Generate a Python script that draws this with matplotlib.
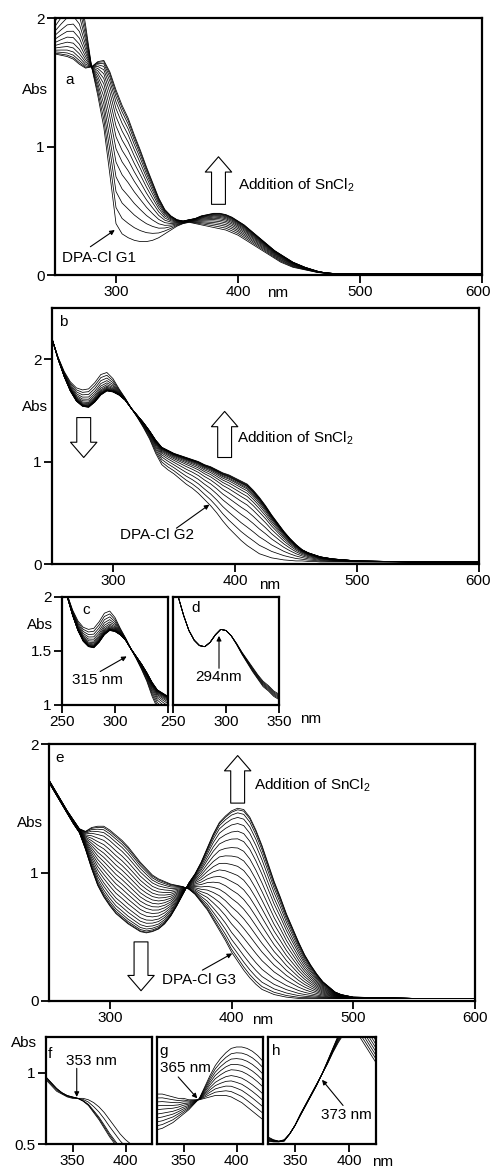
import numpy as np
import matplotlib.pyplot as plt
import matplotlib.transforms as mtransforms

plt.rcParams['font.family'] = ['Liberation Sans', 'DejaVu Sans']
plt.rcParams['mathtext.fontset'] = 'custom'
plt.rcParams['mathtext.rm'] = 'Liberation Sans'

# wavelength grid (nm) for the full-range spectra
wl = list(range(250, 505, 5)) + [525, 550, 575, 600]
# grid for the zoomed insets
wl_cd = list(range(250, 355, 5))
wl_fgh = list(range(325, 430, 5))

# --- a: DPA-Cl G1, first and last spectra of the titration
a_start = [2.05, 2.16, 2.26, 2.30, 2.22, 1.95, 1.62, 1.40, 1.15, 0.78,
           0.40, 0.32, 0.29, 0.27, 0.26, 0.26, 0.27, 0.29, 0.32, 0.35,
           0.38, 0.40, 0.41, 0.40, 0.39, 0.38, 0.37, 0.36, 0.35, 0.33,
           0.31, 0.28, 0.25, 0.22, 0.19, 0.16, 0.13, 0.10, 0.08, 0.06,
           0.05, 0.04, 0.03, 0.02, 0.015, 0.01, 0.01, 0.01, 0.01, 0.01,
           0.01, 0.01, 0.01, 0.01, 0.01]
a_end = [1.72, 1.71, 1.70, 1.68, 1.64, 1.61, 1.62, 1.66, 1.67, 1.58,
         1.44, 1.32, 1.22, 1.09, 0.97, 0.84, 0.72, 0.60, 0.51, 0.46,
         0.43, 0.42, 0.43, 0.44, 0.46, 0.47, 0.48, 0.48, 0.47, 0.45,
         0.42, 0.39, 0.35, 0.31, 0.27, 0.23, 0.19, 0.16, 0.13, 0.10,
         0.08, 0.06, 0.045, 0.03, 0.02, 0.015, 0.01, 0.01, 0.01, 0.01,
         0.01, 0.01, 0.01, 0.01, 0.01]
a_steps = [0, 0.12, 0.24, 0.35, 0.46, 0.56, 0.65, 0.73, 0.80, 0.86,
           0.91, 0.95, 0.98, 1.0]

# --- b: DPA-Cl G2
b_start = [2.20, 2.02, 1.88, 1.78, 1.72, 1.70, 1.71, 1.77, 1.85, 1.87,
           1.81, 1.71, 1.62, 1.52, 1.43, 1.33, 1.22, 1.08, 0.97, 0.92,
           0.88, 0.83, 0.78, 0.74, 0.69, 0.63, 0.57, 0.50, 0.42, 0.35,
           0.29, 0.23, 0.18, 0.14, 0.10, 0.08, 0.06, 0.05, 0.04, 0.035,
           0.03, 0.03, 0.025, 0.025, 0.02, 0.02, 0.02, 0.02, 0.02, 0.02,
           0.02, 0.02, 0.02, 0.02, 0.02]
b_end = [2.20, 2.00, 1.83, 1.69, 1.59, 1.54, 1.53, 1.58, 1.65, 1.69,
         1.68, 1.65, 1.60, 1.52, 1.45, 1.38, 1.30, 1.21, 1.14, 1.11,
         1.08, 1.06, 1.04, 1.02, 1.00, 0.97, 0.95, 0.92, 0.89, 0.87,
         0.84, 0.81, 0.78, 0.72, 0.65, 0.57, 0.48, 0.40, 0.32, 0.25,
         0.19, 0.14, 0.11, 0.09, 0.07, 0.06, 0.05, 0.045, 0.04, 0.035,
         0.03, 0.025, 0.02, 0.02, 0.02]
b_steps = [0, 0.15, 0.30, 0.44, 0.56, 0.66, 0.74, 0.80, 0.85, 0.89,
           0.92, 0.94, 0.96, 0.97, 0.98, 0.99, 1.0]

# --- d: later stage of G2, 250-350 nm
d_start = [2.20, 2.00, 1.83, 1.69, 1.60, 1.55, 1.54, 1.58, 1.65, 1.70,
           1.69, 1.64, 1.57, 1.49, 1.42, 1.35, 1.28, 1.22, 1.18, 1.13,
           1.10]
d_end = [2.20, 2.00, 1.83, 1.69, 1.60, 1.55, 1.54, 1.58, 1.65, 1.70,
         1.69, 1.64, 1.56, 1.47, 1.39, 1.31, 1.24, 1.17, 1.13, 1.08,
         1.05]
d_steps = [0, 0.2, 0.4, 0.6, 0.8, 1.0]

# --- e: DPA-Cl G3
e_start = [1.72, 1.64, 1.56, 1.48, 1.41, 1.34, 1.32, 1.35, 1.36, 1.36,
           1.33, 1.29, 1.25, 1.20, 1.14, 1.08, 1.03, 0.98, 0.95, 0.93,
           0.91, 0.90, 0.89, 0.87, 0.83, 0.77, 0.71, 0.63, 0.55, 0.47,
           0.38, 0.31, 0.24, 0.18, 0.13, 0.09, 0.07, 0.05, 0.04, 0.03,
           0.025, 0.02, 0.02, 0.02, 0.02, 0.02, 0.02, 0.02, 0.02, 0.02,
           0.02, 0.02, 0.02, 0.02, 0.02]
e_end = [1.70, 1.62, 1.54, 1.46, 1.38, 1.31, 1.18, 1.03, 0.90, 0.81,
         0.74, 0.68, 0.64, 0.60, 0.57, 0.54, 0.53, 0.54, 0.56, 0.60,
         0.66, 0.74, 0.83, 0.92, 0.99, 1.08, 1.19, 1.30, 1.39, 1.44,
         1.48, 1.50, 1.49, 1.43, 1.33, 1.21, 1.07, 0.93, 0.81, 0.68,
         0.57, 0.46, 0.36, 0.28, 0.21, 0.15, 0.11, 0.07, 0.05, 0.04,
         0.03, 0.025, 0.02, 0.02, 0.02]
e_steps = [0, 0.02, 0.05, 0.09, 0.14, 0.20, 0.26, 0.32, 0.38, 0.44,
           0.50, 0.56, 0.62, 0.68, 0.74, 0.80, 0.85, 0.90, 0.94, 0.97,
           0.99, 1.0]

# --- f, g, h: three stages of the G3 titration, 325-425 nm
f_start = [0.97, 0.93, 0.89, 0.86, 0.84, 0.83, 0.82, 0.80, 0.77, 0.72,
           0.67, 0.61, 0.55, 0.50, 0.45, 0.41, 0.37, 0.33, 0.30, 0.27,
           0.24]
f_end = [0.95, 0.91, 0.87, 0.85, 0.83, 0.82, 0.82, 0.82, 0.81, 0.79,
         0.76, 0.72, 0.67, 0.62, 0.57, 0.53, 0.50, 0.46, 0.42, 0.38,
         0.35]
f_steps = [0, 0.1, 0.2, 0.6, 1.0]

g_start = [0.85, 0.85, 0.84, 0.83, 0.82, 0.82, 0.81, 0.81, 0.81, 0.82,
           0.83, 0.84, 0.84, 0.84, 0.83, 0.81, 0.79, 0.76, 0.73, 0.70,
           0.67]
g_end = [0.60, 0.61, 0.63, 0.65, 0.68, 0.71, 0.74, 0.78, 0.82, 0.90,
         0.98, 1.05, 1.10, 1.14, 1.17, 1.18, 1.18, 1.17, 1.15, 1.12,
         1.08]
g_steps = [0, 0.11, 0.22, 0.33, 0.44, 0.56, 0.67, 0.78, 0.89, 1.0]

h_start = [0.55, 0.53, 0.52, 0.53, 0.57, 0.63, 0.71, 0.78, 0.85, 0.92,
           0.99, 1.06, 1.14, 1.21, 1.27, 1.30, 1.29, 1.25, 1.19, 1.13,
           1.07]
h_end = [0.52, 0.515, 0.515, 0.52, 0.57, 0.63, 0.70, 0.77, 0.84, 0.91,
         0.99, 1.08, 1.17, 1.26, 1.33, 1.38, 1.41, 1.40, 1.36, 1.30,
         1.24]
h_steps = [0, 0.15, 0.3, 0.45, 0.6, 0.75, 0.9, 1.0]

W, H = 492, 1170
FS = 11
fig = plt.figure(figsize=(W / 100, H / 100), dpi=100)


def panel(l, t, r, b):
    return fig.add_axes([l / W, 1 - b / H, (r - l) / W, (b - t) / H])


def spectra(ax, x, start, end, steps):
    s = np.array(start)
    e = np.array(end)
    for k in steps:
        ax.plot(x, s + k * (e - s), color='black', lw=0.55)


def frame(ax, xlim, ylim, xticks, xlabels, yticks, ylabels):
    ax.set_xlim(*xlim)
    ax.set_ylim(*ylim)
    ax.set_xticks(xticks)
    ax.set_xticklabels(xlabels)
    ax.set_yticks(yticks)
    ax.set_yticklabels(ylabels)
    ax.tick_params(direction='out', length=5.5, width=1.3, labelsize=FS, pad=2)
    for sp in ax.spines.values():
        sp.set_linewidth(1.6)


def pull_last_label(ax, dx_px):
    # nudge the right-most x tick label so it stays inside the canvas
    lbl = ax.xaxis.get_major_ticks()[-1].label1
    shift = mtransforms.ScaledTranslation(dx_px / 100, 0, fig.dpi_scale_trans)
    lbl.set_transform(lbl.get_transform() + shift)


def ftext(px, py, s, **kw):
    fig.text(px / W, 1 - py / H, s, ha='center', va='center', fontsize=FS, **kw)


def block_arrow(ax, x, y0, y1):
    ax.annotate('', xy=(x, y1), xytext=(x, y0),
                arrowprops=dict(arrowstyle='simple,head_width=1.9,head_length=1.1,tail_width=1.0',
                                mutation_scale=10, fc='white', ec='black', lw=0.8,
                                shrinkA=0, shrinkB=0))


def pointer(ax, txy, hxy, lw=0.8):
    ax.annotate('', xy=hxy, xytext=txy,
                arrowprops=dict(arrowstyle='-|>', mutation_scale=7, lw=lw,
                                color='black', shrinkA=0, shrinkB=0))


big_ticks = [300, 400, 500, 600]
big_labels = ['300', '400', '500', '600']

# a
ax = panel(55, 18, 482, 275)
spectra(ax, wl, a_start, a_end, a_steps)
frame(ax, (250, 600), (0, 2), big_ticks, big_labels, [0, 1, 2], ['0', '1', '2'])
pull_last_label(ax, -4)
ax.text(262, 1.52, 'a', fontsize=FS, ha='center', va='center')
block_arrow(ax, 384, 0.55, 0.92)
ax.text(400, 0.70, 'Addition of SnCl$_2$', fontsize=FS, va='center')
ax.text(256, 0.13, 'DPA-Cl G1', fontsize=FS, va='center')
pointer(ax, (279, 0.22), (299, 0.35))
ftext(35, 90, 'Abs')
ftext(278, 293, 'nm')

# b
ax = panel(52, 308, 479, 564)
spectra(ax, wl, b_start, b_end, b_steps)
frame(ax, (250, 600), (0, 2.5), big_ticks, big_labels, [0, 1, 2], ['0', '1', '2'])
pull_last_label(ax, -1)
ax.text(259, 2.36, 'b', fontsize=FS, ha='center', va='center')
block_arrow(ax, 276, 1.43, 1.04)
block_arrow(ax, 391.5, 1.04, 1.49)
ax.text(402, 1.23, 'Addition of SnCl$_2$', fontsize=FS, va='center')
ax.text(336, 0.28, 'DPA-Cl G2', fontsize=FS, ha='center', va='center')
pointer(ax, (352, 0.35), (379, 0.58))
ftext(35, 407, 'Abs')
ftext(270, 585, 'nm')

# c: zoom of b
ax = panel(62, 597, 168, 705)
spectra(ax, wl, b_start, b_end, b_steps)
frame(ax, (250, 350), (1, 2), [250, 300, 350], ['250', '300', ''],
      [1, 1.5, 2], ['1', '1.5', '2'])
ax.text(272.6, 1.88, 'c', fontsize=FS, ha='center', va='center')
ax.text(283, 1.23, '315 nm', fontsize=FS, ha='center', va='center')
pointer(ax, (286, 1.31), (311, 1.45))
ftext(40, 625, 'Abs')

# d
ax = panel(173, 597, 279, 705)
spectra(ax, wl_cd, d_start, d_end, d_steps)
frame(ax, (250, 350), (1, 2), [250, 300, 350], ['250', '300', '350'], [], [])
ax.text(271, 1.90, 'd', fontsize=FS, ha='center', va='center')
ax.text(293.4, 1.26, '294nm', fontsize=FS, ha='center', va='center')
pointer(ax, (293.4, 1.34), (293.4, 1.64))
ftext(311, 719, 'nm')

# e
ax = panel(49, 744, 475, 1001)
spectra(ax, wl, e_start, e_end, e_steps)
frame(ax, (250, 600), (0, 2), big_ticks, big_labels, [0, 1, 2], ['0', '1', '2'])
ax.text(259, 1.89, 'e', fontsize=FS, ha='center', va='center')
block_arrow(ax, 405, 1.54, 1.91)
ax.text(418.5, 1.68, 'Addition of SnCl$_2$', fontsize=FS, va='center')
block_arrow(ax, 325.6, 0.46, 0.08)
ax.text(343, 0.16, 'DPA-Cl G3', fontsize=FS, va='center')
pointer(ax, (376, 0.24), (400.5, 0.37))
ftext(30, 823, 'Abs')
ftext(263, 1020, 'nm')

# f, g, h
small_ticks = [350, 400]
small_labels = ['350', '400']

ax = panel(46, 1037, 152, 1144)
spectra(ax, wl_fgh, f_start, f_end, f_steps)
frame(ax, (325, 425), (0.5, 1.25), small_ticks, small_labels, [0.5, 1], ['0.5', '1'])
ax.text(328.5, 1.13, 'f', fontsize=FS, ha='center', va='center')
ax.text(368, 1.08, '353 nm', fontsize=FS, ha='center', va='center')
pointer(ax, (354, 1.03), (354, 0.83))
ftext(24, 1043, 'Abs')

ax = panel(157, 1037, 263, 1144)
spectra(ax, wl_fgh, g_start, g_end, g_steps)
frame(ax, (325, 425), (0.5, 1.25), small_ticks, small_labels, [], [])
ax.text(331, 1.15, 'g', fontsize=FS, ha='center', va='center')
ax.text(352, 1.035, '365 nm', fontsize=FS, ha='center', va='center')
pointer(ax, (345, 0.97), (363, 0.82))

ax = panel(268, 1037, 376, 1144)
spectra(ax, wl_fgh, h_start, h_end, h_steps)
frame(ax, (325, 425), (0.5, 1.25), small_ticks, small_labels, [], [])
ax.text(333, 1.15, 'h', fontsize=FS, ha='center', va='center')
ax.text(398, 0.70, '373 nm', fontsize=FS, ha='center', va='center')
pointer(ax, (394.5, 0.77), (375, 0.95))
ftext(383, 1162, 'nm')

fig.savefig('out.png', dpi=100)
